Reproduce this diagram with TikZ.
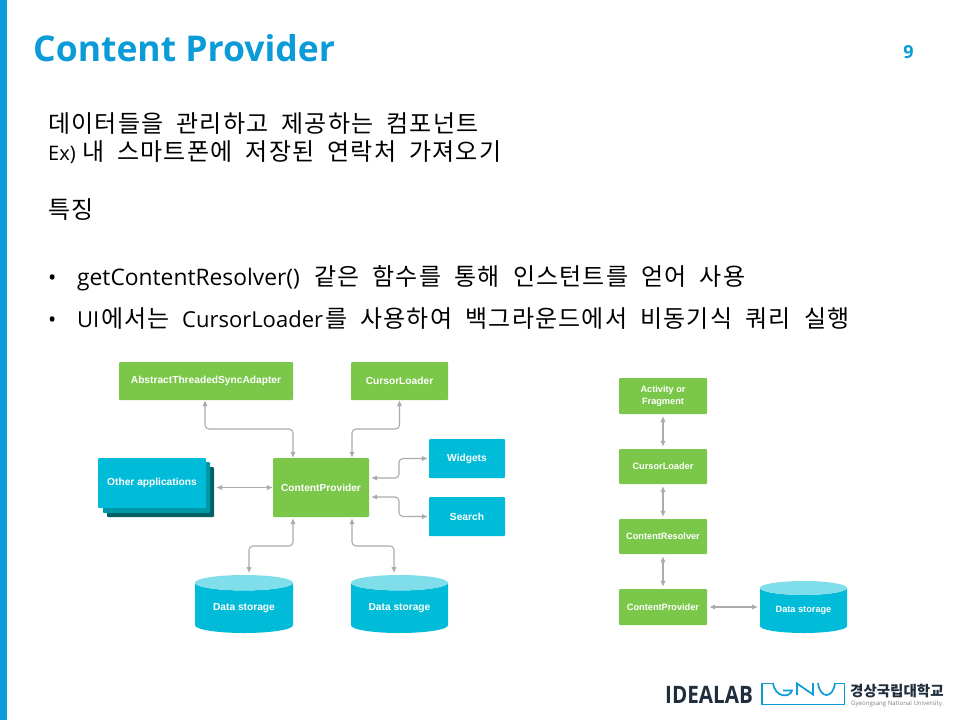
\documentclass[tikz,border=0pt]{standalone}
\usepackage{fontspec}
\usepackage{graphicx}
\usetikzlibrary{shapes.geometric,arrows.meta}
\setmainfont{Open Sans}
\newfontfamily\krf[LetterSpace=5,WordSpace=2]{Noto Sans CJK KR}
\newfontfamily\krb{Noto Sans CJK KR}
\newfontfamily\latf{Open Sans}
\newfontfamily\labf{Liberation Sans}
\definecolor{bar}{HTML}{0A9BD8}
\definecolor{grn}{HTML}{7AC74A}
\definecolor{cyn}{HTML}{00BCD8}
\definecolor{cyntop}{HTML}{80DEEA}
\definecolor{cynmid}{HTML}{0097A7}
\definecolor{cyndk}{HTML}{006064}
\definecolor{conn}{HTML}{ABABAB}
\definecolor{inkdk}{HTML}{1F2D3D}
\tikzset{
 px/.style={x=1pt,y=-1pt},
 gbox/.style={fill=grn,draw=none,rounded corners=1pt,inner sep=0pt,text=white,font=\labf\bfseries\fontsize{10.2}{12}\selectfont,align=center},
 cbox/.style={gbox,fill=cyn},
 small/.style={font=\labf\bfseries\fontsize{9.2}{12}\selectfont},
 store/.style={cylinder,shape border rotate=90,aspect=0.25,anchor=shape center,draw=none,inner sep=0pt,outer sep=0pt,
   cylinder uses custom fill,cylinder body fill=cyn,cylinder end fill=cyntop,text=white,
   font=\labf\bfseries\fontsize{10.2}{12}\selectfont},
 link/.style={draw=conn,line width=1.1pt,rounded corners=4pt,{Latex[length=6pt,width=5.5pt]}-{Latex[length=6pt,width=5.5pt]}},
 body/.style={anchor=base west,inner sep=0pt,text=black,font=\latf\fontsize{22}{24}\selectfont},
 kor/.style={anchor=base west,inner sep=0pt,text=black,font=\krf\fontsize{24}{26}\selectfont},
 gnu/.style={draw=bar,line width=1.7pt},
}
\begin{document}
\begin{tikzpicture}[px]
\useasboundingbox (0,0) rectangle (960,720);
\fill[white] (0,0) rectangle (960,720);
\fill[bar] (0,0) rectangle (7,720);
\node[anchor=base west,inner sep=0pt,text=bar,font=\latf\bfseries\fontsize{35.5}{40}\selectfont] (title) at (33,61) {Content Provider};
\node[anchor=base,inner sep=0pt,text=bar,font=\latf\bfseries\fontsize{18}{20}\selectfont] (pageno) at (908.5,58) {9};
\node[kor] (l1) at (48,132) {데이터들을 관리하고 제공하는 컴포넌트};
\node[body,font=\latf\fontsize{20}{22}\selectfont] (l2a) at (48,160) {Ex)};
\node[kor] (l2b) at (82,160) {내 스마트폰에 저장된 연락처 가져오기};
\node[kor] (l3) at (48,218) {특징};
\node[body] (b1) at (48,285) {•};
\node[body,font=\latf\fontsize{22.8}{24}\selectfont] (b1a) at (77,285) {getContentResolver()};
\node[kor] (b1b) at (314,285) {같은 함수를 통해 인스턴트를 얻어 사용};
\node[body] (b2) at (48,327.5) {•};
\node[body] (b2a) at (77,327.5) {UI};
\node[kor] (b2b) at (101,327.5) {에서는};
\node[body] (b2c) at (182,327.5) {CursorLoader};
\node[kor] (b2d) at (325,327.5) {를 사용하여 백그라운드에서 비동기식 쿼리 실행};
% left diagram
\node[gbox,minimum width=174pt,minimum height=38pt] (atsa) at (206,381) {AbstractThreadedSyncAdapter};
\node[gbox,minimum width=97pt,minimum height=38pt] (cl) at (399.5,381) {CursorLoader};
\node[gbox,minimum width=96pt,minimum height=59pt] (cp) at (321,487.5) {ContentProvider};
\node[cbox,minimum width=76pt,minimum height=39pt] (wid) at (467,458.5) {Widgets};
\node[cbox,minimum width=76pt,minimum height=39pt] (sea) at (467,516.5) {Search};
\fill[cyndk,rounded corners=1pt] (107,467) rectangle (214,517);
\fill[cynmid,rounded corners=1pt] (103,462) rectangle (210,513);
\node[cbox,minimum width=108pt,minimum height=50pt] (oth) at (152,483) {Other applications};
\node[store,minimum width=98pt,minimum height=58pt] (ds1) at (244,604) {Data storage};
\node[store,minimum width=97pt,minimum height=58pt] (ds2) at (399.5,604) {Data storage};
\draw[link] ([xshift=-1pt]atsa.south) -- (205,429) -- (293,429) -- ([xshift=-28pt]cp.north);
\draw[link] (cl.south) -- (399.5,429) -- (352,429) -- ([xshift=31pt]cp.north);
\draw[link] ([xshift=10pt,yshift=-4.5pt]oth.east) -- (cp.west);
\draw[link] ([xshift=2pt,yshift=9.5pt]cp.east) -- (399,478) -- (399,458.5) -- ([xshift=-1pt]wid.west);
\draw[link] ([xshift=2pt,yshift=-9.5pt]cp.east) -- (399,497) -- (399,516.5) -- ([xshift=-1pt]sea.west);
\draw[link] ([xshift=-28pt,yshift=-1pt]cp.south) -- (293,546) -- (249,546) -- ([xshift=5pt,yshift=2pt]ds1.north);
\draw[link] ([xshift=31pt,yshift=-1pt]cp.south) -- (352,546) -- (394,546) -- ([xshift=-5.5pt,yshift=2pt]ds2.north);
% right diagram
\node[gbox,small,minimum width=88pt,minimum height=36pt] (af) at (663,396) {Activity or\\Fragment};
\node[gbox,small,minimum width=88pt,minimum height=35pt] (rcl) at (663,466.5) {CursorLoader};
\node[gbox,small,minimum width=88pt,minimum height=35pt] (rcr) at (663,536.5) {ContentResolver};
\node[gbox,small,minimum width=88pt,minimum height=36pt] (rcp) at (663,607) {ContentProvider};
\node[store,small,minimum width=87pt,minimum height=52pt] (rds) at (803.5,607) {Data storage};
\draw[link,shorten <=2pt,shorten >=2pt] (af) -- (rcl);
\draw[link,shorten <=2pt,shorten >=2pt] (rcl) -- (rcr);
\draw[link,shorten <=2pt,shorten >=2pt] (rcr) -- (rcp);
\draw[link,shorten <=2pt,shorten >=2pt] (rcp.east) -- (rcp.east -| rds.west);
% footer logo
\node[anchor=base west,inner sep=0pt,text=inkdk,font=\latf\bfseries\fontsize{24}{26}\selectfont] (lab) at (665,703) {\scalebox{.86}[1]{IDEALAB}};
\draw[gnu] (772,683.5) -- (762,683.5) -- (762,704.5) -- (844.5,704.5) -- (844.5,683.5) -- (835,683.5);
\draw[gnu] (773,683) .. controls (775,698) and (790,698) .. (792,690.5) -- (783,690.5);
\draw[gnu] (797,695) -- (797,683.5) -- (813,694.5) -- (813,683);
\draw[gnu] (818,683) .. controls (820,699) and (833,699) .. (835,683);
\node[anchor=base west,inner sep=0pt,text=inkdk,font=\krb\bfseries\fontsize{14.5}{16}\selectfont] (kname) at (850,696) {경상국립대학교};
\node[anchor=base west,inner sep=0pt,text=gray,font=\latf\fontsize{6.1}{7}\selectfont] (ename) at (851,705) {Gyeongsang National University};
\end{tikzpicture}
\end{document}
